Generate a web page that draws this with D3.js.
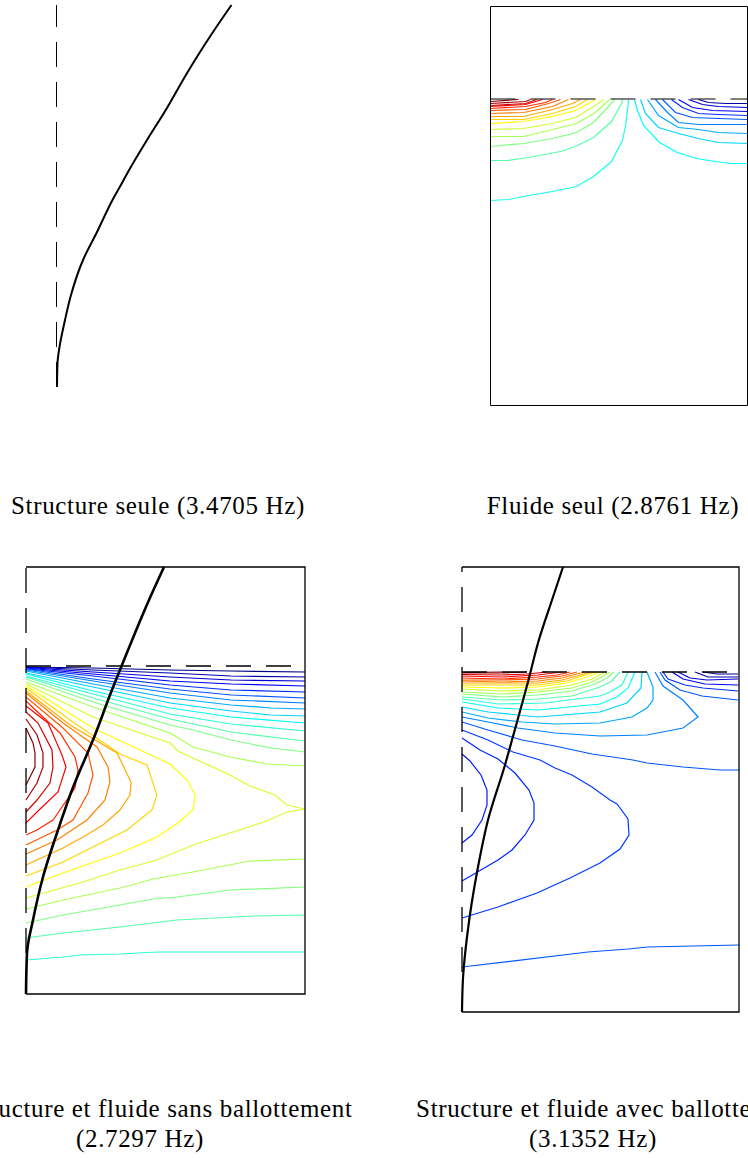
<!DOCTYPE html>
<html lang="fr">
<head>
<meta charset="UTF-8">
<title>Modes propres</title>
<script src="https://d3js.org/d3.v7.min.js"></script>
<style>
  html, body { margin: 0; padding: 0; background: #fff; overflow: hidden; }
  svg { display: block; }
  text { font-family: "Liberation Serif", serif; font-size: 25px; letter-spacing: 0.65px; fill: #000; text-anchor: middle; }
</style>
</head>
<body>
<div id="chart"></div>
<script>
// colour ramp of the contour levels (jet)
const jetStops = [0, 0.125, 0.375, 0.625, 0.875, 1];
const jetColors = ["#000080", "#0000ff", "#00ffff", "#ffff00", "#ff0000", "#800000"];

// deformed shape of the wall (mesh units)
const structureSeuleWall = [[175,0],[156.5,27],[138.5,55],[126.5,75],[110.5,103],[90.5,135],[71.5,167],[65.5,178],[56,195],[40.5,227],[26.5,255],[14.5,290],[8.5,315],[3,342],[1,358],[0.5,382]];
const sansBallottementWall = [[138,0],[123,33],[96,98],[84,128],[69,168],[46,223],[32,263],[17,310],[7,353],[1,386],[0,427]];
const avecBallottementWall = [[101,0],[91,30],[76,76],[67,111],[50,173],[43,198],[26,253],[16,300],[5,370],[1,411],[0,445]];

// fluide seul : level of each contour, then its points
const fluideLevels = [0.40,0.458,0.5,0.54,0.58,0.625,0.667,0.71,0.75,0.79,0.833,0.875,0.92,0.96,1,
                      0.375,0.333,0.29,0.25,0.208,0.167,0.125,0.083,0.04];
const fluideContours = [
  [[0,194],[18,193],[38,189],[62,185],[86,180],[103,170],[121,155],[132,134],[135,119],[137,104],[138,93]],
  [[0,154],[17,154],[38,151],[70,145],[85,140],[103,131],[121,115],[131,97],[132,93]],
  [[0,140],[33,137],[62,132],[86,126],[103,116],[119,99],[124,93]],
  [[0,130],[33,130],[62,123],[86,117],[105,106],[119,93]],
  [[0,123],[33,122],[62,117],[85,111],[105,99],[113,93]],
  [[0,117],[33,115],[62,110],[85,104],[105,93]],
  [[0,113],[33,113],[62,107],[85,100],[97,93]],
  [[0,110],[33,110],[62,103],[82,97],[90,93]],
  [[0,107],[33,106],[62,100],[78,93]],
  [[0,104],[35,103],[58,97],[70,93]],
  [[0,102],[35,100],[55,96],[62,93]],
  [[0,100],[35,98],[52,93]],
  [[0,99],[35,97],[46,93]],
  [[0,97],[35,95],[40,93]],
  [[0,95],[28,93]],
  [[144,93],[147,104],[153,119],[169,136],[187,146],[206,152],[225,155],[240,157],[257,157]],
  [[150,93],[155,107],[168,121],[188,127],[208,132],[228,136],[257,137]],
  [[157,93],[168,109],[188,121],[208,123],[228,126],[257,127]],
  [[165,93],[177,106],[188,116],[208,118],[257,118]],
  [[172,93],[185,106],[202,111],[228,112],[257,113]],
  [[181,93],[192,101],[208,107],[228,108],[257,109]],
  [[188,93],[202,101],[222,104],[257,105]],
  [[198,93],[212,98],[228,100],[257,101]],
  [[208,93],[218,96],[235,97],[257,97]]
];

// structure et fluide sans ballottement, null splits the two branches of a level
const sansLevels = d3.range(25).map(i => i / 24);
const sansContours = [
  [[0,100],[67,101],[144,103],[205,104],[279,105]],
  [[0,100],[67,103],[144,106],[205,109],[279,110]],
  [[0,100.3],[67,105],[144,110],[205,113],[279,114]],
  [[0,101],[67,107],[144,114],[205,117],[279,119]],
  [[0,101.7],[67,109],[144,118],[205,123],[279,125]],
  [[0,102],[67,112],[144,122],[205,128],[279,131]],
  [[0,103],[67,114],[144,126],[205,133],[279,136]],
  [[0,104],[67,117],[144,131],[205,138],[245,141],[279,142]],
  [[0,106],[67,120],[144,136],[205,144],[245,148],[279,149]],
  [[0,107],[67,124],[144,141],[205,150],[279,156]],
  [[0,109],[67,127],[144,147],[205,157],[279,164],null,[279,385],[131,385],[94,387],[54,388],[37,390],[0,393]],
  [[0,110],[67,131],[144,152],[205,165],[279,174],null,[279,348],[227,349],[151,353],[94,360],[37,366],[0,371]],
  [[0,112],[67,135],[144,158],[167,163],[205,173],[245,181],[279,185],null,[279,320],[204,323],[151,330],[127,332],[77,341],[37,348],[0,356]],
  [[0,115],[67,140],[144,166],[167,180],[204,190],[241,197],[279,199],null,[279,292],[224,294],[167,305],[127,312],[94,321],[37,333],[0,342]],
  [[0,117],[67,150],[144,176],[152,184],[167,191],[204,208],[224,219],[249,228],[261,238],[279,242],[261,245],[241,254],[204,266],[167,278],[131,293],[94,303],[57,315],[0,331]],
  [[0,119],[67,161],[144,197],[162,214],[169,228],[167,243],[152,256],[131,270],[94,286],[37,306],[0,320]],
  [[0,121],[44,153],[94,187],[121,198],[131,228],[126,243],[101,263],[91,268],[37,295],[0,309]],
  [[0,124],[44,158],[91,186],[105,215],[104,228],[94,243],[77,258],[57,270],[37,281],[0,298]],
  [[0,126],[37,156],[71,180],[82,200],[84,215],[79,233],[61,253],[31,273],[0,287]],
  [[0,130],[37,161],[62,186],[67,208],[62,226],[47,253],[31,263],[0,278]],
  [[0,134],[34,166],[49,190],[52,203],[49,221],[27,253],[11,263],[0,268]],
  [[0,139],[22,156],[36,188],[40,200],[32,225],[11,245],[0,256]],
  [[0,145],[12,156],[26,183],[27,200],[24,216],[11,233],[0,245]],
  [[0,152],[11,168],[17,186],[17,200],[11,216],[0,233]],
  [[0,161],[7,176],[9,186],[9,200],[4,210],[0,218]]
];

// structure et fluide avec ballottement
const avecLevels = [0.15,0.16,0.18,0.21,0.21,0.25,0.29,0.333,0.375,0.417,0.458,0.5,0.54,0.58,0.625,0.667,0.71,0.75,0.79,0.833,0.875,0.92,0.96,1,
                    0.21,0.17,0.125,0.09,0.05,0.02];
const avecContours = [
  [[0,187],[8,194],[19,208],[25,223],[25,238],[20,253],[10,268],[0,276]],
  [[0,171],[3,173],[18,183],[36,192],[53,206],[67,223],[72,236],[72,253],[63,268],[50,283],[36,293],[0,314]],
  [[0,163],[26,173],[51,185],[78,193],[93,201],[110,208],[130,220],[148,233],[155,237],[166,252],[167,268],[158,282],[138,296],[108,311],[75,326],[36,340],[0,351]],
  [[0,155],[26,163],[60,173],[93,179],[130,187],[171,193],[185,196],[221,200],[258,203],[277,203]],
  [[0,400],[126,385],[166,382],[186,380],[230,379],[277,378]],
  [[0,150],[26,155],[56,161],[93,166],[138,169],[185,168],[221,161],[236,150],[221,133],[201,119],[193,105]],
  [[0,145],[26,151],[60,155],[93,157],[138,156],[170,150],[185,141],[191,133],[191,120],[185,105]],
  [[0,140],[26,145],[76,150],[138,145],[165,136],[179,121],[180,105]],
  [[0,135],[36,141],[76,143],[138,137],[155,130],[166,121],[173,105]],
  [[0,132],[36,137],[83,136],[138,129],[148,125],[160,118],[166,105]],
  [[0,130],[40,133],[76,132],[110,129],[138,120],[150,114],[158,105]],
  [[0,127],[40,130],[76,128],[110,124],[133,117],[145,111],[152,105]],
  [[0,125],[40,127],[76,125],[110,121],[130,115],[148,105]],
  [[0,122],[40,124],[76,123],[110,118],[130,112],[143,105]],
  [[0,120],[40,121],[76,120],[105,116],[125,110],[138,105]],
  [[0,118],[40,118],[76,118],[105,114],[120,109],[133,105]],
  [[0,116],[40,116],[76,116],[100,113],[115,109],[128,105]],
  [[0,114],[40,115],[76,114],[100,111],[122,105]],
  [[0,113],[40,113],[76,112],[100,109],[115,105]],
  [[0,111],[40,112],[76,110],[95,108],[108,105]],
  [[0,109],[40,110],[76,108],[100,105]],
  [[0,107.5],[40,108],[65,107],[85,105]],
  [[0,106],[40,106],[65,105]],
  [[0,105.5],[40,105]],
  [[198,105],[203,113],[218,123],[240,129],[276,133]],
  [[201,105],[206,112],[223,118],[241,121],[276,124]],
  [[210,105],[221,112],[243,117],[276,118]],
  [[216,105],[228,111],[245,113],[276,112]],
  [[233,105],[246,110],[276,110]],
  [[241,105],[255,107],[276,107]]
];

// captions, one entry per line
const captions = [
  { text: "Structure seule (3.4705 Hz)", x: 158, y: 514 },
  { text: "Fluide seul (2.8761 Hz)", x: 613, y: 514 },
  { text: "Structure et fluide sans ballottement", x: 160, y: 1117 },
  { text: "(2.7297 Hz)", x: 140, y: 1147 },
  { text: "Structure et fluide avec ballottement", x: 610, y: 1117 },
  { text: "(3.1352 Hz)", x: 593, y: 1147 }
];

const width = 748;
const height = 1158;

const svg = d3.select("#chart").append("svg")
    .attr("width", width)
    .attr("height", height);

const jet = d3.scaleLinear().domain(jetStops).range(jetColors).clamp(true);

function drawPanel(p) {
    const x = d3.scaleLinear().domain([0, p.w]).range([p.x0, p.x0 + p.w]);
    const y = d3.scaleLinear().domain([0, p.h]).range([p.y0, p.y0 + p.h]);
    const line = d3.line().defined(d => d).x(d => x(d[0])).y(d => y(d[1]));
    const smooth = d3.line().curve(d3.curveMonotoneY).x(d => x(d[0])).y(d => y(d[1]));
    const g = svg.append("g");

    if (p.contours) {
        g.append("g").attr("fill", "none").attr("stroke-width", 1.2)
            .selectAll("path")
            .data(p.contours)
            .enter().append("path")
            .attr("d", line)
            .attr("stroke", (d, i) => jet(p.levels[i]));
    }

    // solid sides of the box
    if (p.box) {
        g.append("g").attr("fill", "none").attr("stroke", "#000").attr("stroke-width", p.boxWidth)
            .selectAll("path")
            .data(p.box)
            .enter().append("path")
            .attr("d", line);
    }

    // dashed undeformed geometry
    g.append("g").attr("fill", "none").attr("stroke", "#000").attr("stroke-width", p.boxWidth)
        .attr("stroke-dasharray", "25,15")
        .selectAll("path")
        .data(p.dashes)
        .enter().append("path")
        .attr("d", d => line(d.pts))
        .attr("stroke-dashoffset", d => d.offset);

    if (p.wall) {
        g.append("path")
            .attr("d", smooth(p.wall))
            .attr("fill", "none")
            .attr("stroke", "#000")
            .attr("stroke-width", p.wallWidth);
    }
}

drawPanel({
    x0: 56.5, y0: 5, w: 175, h: 382, boxWidth: 1, wallWidth: 2,
    wall: structureSeuleWall,
    dashes: [{ pts: [[0, 0], [0, 382]], offset: 3 }]
});

drawPanel({
    x0: 490.5, y0: 6.5, w: 257, h: 399, boxWidth: 1,
    contours: fluideContours, levels: fluideLevels,
    box: [[[0, 0], [257, 0], [257, 399], [0, 399], [0, 0]]],
    dashes: [{ pts: [[0, 92.5], [257, 92.5]], offset: 0 }]
});

drawPanel({
    x0: 26, y0: 567, w: 279, h: 427, boxWidth: 1.3, wallWidth: 2.6,
    contours: sansContours, levels: sansLevels,
    box: [[[0, 0], [279, 0], [279, 427], [0, 427]]],
    wall: sansBallottementWall,
    dashes: [{ pts: [[0, 1], [0, 388]], offset: 0 }, { pts: [[0, 99], [279, 99]], offset: 0 }]
});

drawPanel({
    x0: 462, y0: 567, w: 277, h: 445, boxWidth: 1.3, wallWidth: 2.2,
    contours: avecContours, levels: avecLevels,
    box: [[[0, 0], [277, 0], [277, 445], [0, 445]]],
    wall: avecBallottementWall,
    dashes: [{ pts: [[0, 0], [0, 405]], offset: 20 }, { pts: [[0, 105], [277, 105]], offset: 0 }]
});

svg.selectAll("text")
    .data(captions)
    .enter().append("text")
    .attr("x", d => d.x)
    .attr("y", d => d.y)
    .text(d => d.text);
</script>
</body>
</html>
